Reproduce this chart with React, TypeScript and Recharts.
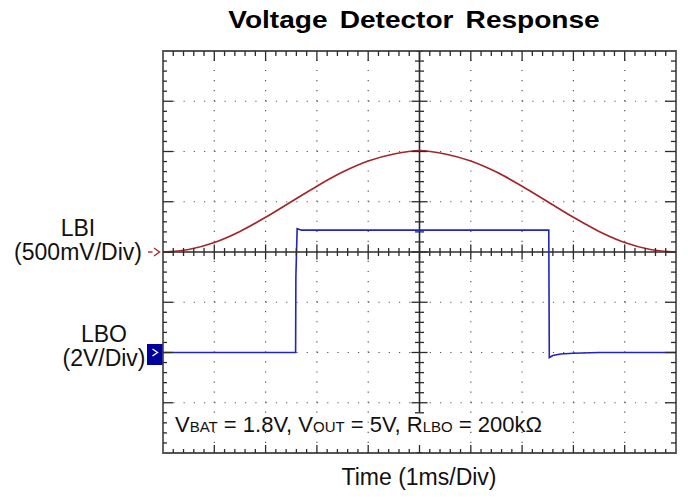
import { ComposedChart, Line, Scatter, XAxis, YAxis, ReferenceLine, ReferenceArea, ReferenceDot } from 'recharts';

// time axis: 1 ms per division, 10 divisions
const GRID_X = [1, 2, 3, 4, 6, 7, 8, 9];
// LBI axis: 500 mV per division, 8 divisions, zero at centre
const GRID_Y = [-1.5, -1, -0.5, 0.5, 1, 1.5];

// LBI channel (V), read every 0.5 ms
const LBI_TIME = [0, 0.5, 1, 1.5, 2, 2.5, 3, 3.5, 4, 4.5, 5, 5.5, 6, 6.5, 7, 7.5, 8, 8.5, 9, 9.5, 10];
const LBI_VOLTS = [0, 0.025, 0.095, 0.205, 0.345, 0.5, 0.655, 0.795, 0.905, 0.975, 1.01, 0.975, 0.905, 0.795, 0.655, 0.5, 0.345, 0.205, 0.095, 0.025, 0];

// LBO channel (V), 2 V per division, zero two divisions below centre
const LBO_TIME = [0, 2.585, 2.59, 2.615, 2.7, 7.52, 7.53, 7.6, 7.75, 8.0, 8.5, 10];
const LBO_VOLTS = [0, 0, 3.0, 4.93, 4.87, 4.87, -0.2, -0.12, -0.06, -0.03, 0, 0];

const lbiData = LBI_TIME.map((t, i) => ({ t, v: LBI_VOLTS[i] }));
const lboData = LBO_TIME.map((t, i) => ({ t, v: LBO_VOLTS[i] }));

// graticule tick positions (0.2 div steps)
const range = (a: number, b: number) => Array.from({ length: b - a + 1 }, (_, i) => a + i);
const xSteps = range(1, 49);
const ySteps = range(-19, 19);
const centreH = xSteps.map((i) => ({ t: i * 0.2, v: 0, major: i % 5 === 0 }));
const centreV = range(-16, 19).map((k) => ({ t: 5, v: k * 0.1, major: k % 5 === 0 }));
const topEdge = xSteps.map((i) => ({ t: i * 0.2, v: 2, major: i % 5 === 0, mid: i === 25 }));
const bottomEdge = xSteps.map((i) => ({ t: i * 0.2, v: -2, major: i % 5 === 0, mid: i === 25 }));
const leftEdge = ySteps.map((k) => ({ t: 0, v: k * 0.1, major: k % 5 === 0 }));
const rightEdge = ySteps.map((k) => ({ t: 10, v: k * 0.1, major: k % 5 === 0 }));

const INK = '#2b2b2b';
const FONT = '"Liberation Sans", Arial, Helvetica, sans-serif';

const vMark = (minor: [number, number], major: [number, number]) => (p: any) => {
  const [a, b] = p.payload.major ? major : minor;
  return (
    <g>
      <line x1={p.cx} x2={p.cx} y1={p.cy + a} y2={p.cy + b} stroke={INK} strokeWidth={1.3} />
      {p.payload.mid && (
        <line x1={p.cx - 3} x2={p.cx + 3} y1={p.cy + a} y2={p.cy + a} stroke={INK} strokeWidth={1.3} />
      )}
    </g>
  );
};
const hMark = (minor: [number, number], major: [number, number]) => (p: any) => {
  const [a, b] = p.payload.major ? major : minor;
  return <line x1={p.cx + a} x2={p.cx + b} y1={p.cy} y2={p.cy} stroke={INK} strokeWidth={1.3} />;
};

const lbiMarker = (p: any) => (
  <g stroke="#b02a2a" strokeWidth={1.4} fill="none">
    <line x1={p.cx - 15} x2={p.cx - 10.5} y1={p.cy} y2={p.cy} />
    <polyline points={`${p.cx - 9},${p.cy - 4} ${p.cx - 3.5},${p.cy} ${p.cx - 9},${p.cy + 4}`} />
  </g>
);
const lboMarker = (p: any) => (
  <g>
    <rect x={p.cx - 16} y={p.cy - 8.5} width={15.5} height={21} fill="#00009c" />
    <polyline
      points={`${p.cx - 10.5},${p.cy - 3.5} ${p.cx - 5.5},${p.cy} ${p.cx - 10.5},${p.cy + 3.5}`}
      stroke="#ffffff"
      strokeWidth={1.4}
      fill="none"
    />
  </g>
);

const sub = 15;

export default function App() {
  return (
    <div style={{ position: 'absolute', left: 0, top: 0, width: 688, height: 501, background: '#ffffff' }}>
      <ComposedChart width={688} height={501} margin={{ top: 51, right: 12, bottom: 48, left: 163 }}>
        <XAxis dataKey="t" type="number" domain={[0, 10]} hide allowDataOverflow />
        <YAxis yAxisId="lbi" type="number" domain={[-2, 2]} hide allowDataOverflow />
        <YAxis yAxisId="lbo" type="number" domain={[-4, 12]} hide allowDataOverflow />

        {GRID_X.map((x) => (
          <ReferenceLine key={`gx${x}`} x={x} yAxisId="lbi" stroke="#555" strokeWidth={1.2} strokeDasharray="1.2 8.85" />
        ))}
        {GRID_Y.map((y) => (
          <ReferenceLine key={`gy${y}`} y={y} yAxisId="lbi" stroke="#555" strokeWidth={1.2} strokeDasharray="1.2 9.06" />
        ))}

        <ReferenceLine y={0} yAxisId="lbi" stroke={INK} strokeWidth={1.6} />
        <ReferenceLine
          yAxisId="lbi"
          segment={[{ x: 5, y: 2 }, { x: 5, y: -1.6 }]}
          stroke={INK}
          strokeWidth={1.6}
        />

        <Scatter yAxisId="lbi" data={centreH} dataKey="v" shape={vMark([-4, 4], [-7.5, 7.5])} isAnimationActive={false} />
        <Scatter yAxisId="lbi" data={centreV} dataKey="v" shape={hMark([-4.5, 4.5], [-8, 8])} isAnimationActive={false} />
        <Scatter yAxisId="lbi" data={topEdge} dataKey="v" shape={vMark([0, 5], [0, 10])} isAnimationActive={false} />
        <Scatter yAxisId="lbi" data={bottomEdge} dataKey="v" shape={vMark([0, -4], [0, -8])} isAnimationActive={false} />
        <Scatter yAxisId="lbi" data={leftEdge} dataKey="v" shape={hMark([0, 4], [0, 10])} isAnimationActive={false} />
        <Scatter yAxisId="lbi" data={rightEdge} dataKey="v" shape={hMark([0, -5], [0, -11])} isAnimationActive={false} />

        <ReferenceArea yAxisId="lbi" x1={0} x2={10} y1={-2} y2={2} fill="none" fillOpacity={0} stroke="#555" strokeWidth={1.8} ifOverflow="visible" />

        <Line
          yAxisId="lbi"
          data={lbiData}
          dataKey="v"
          type="monotone"
          stroke="#a3262b"
          strokeWidth={1.7}
          dot={false}
          isAnimationActive={false}
        />
        <Line
          yAxisId="lbo"
          data={lboData}
          dataKey="v"
          type="linear"
          stroke="#2323c4"
          strokeWidth={1.6}
          dot={false}
          isAnimationActive={false}
        />

        <ReferenceDot yAxisId="lbi" x={0} y={0} r={0} shape={lbiMarker} ifOverflow="visible" />
        <ReferenceDot yAxisId="lbo" x={0} y={0} r={0} shape={lboMarker} ifOverflow="visible" />
      </ComposedChart>

      <svg
        width={688}
        height={501}
        style={{ position: 'absolute', left: 0, top: 0, pointerEvents: 'none' }}
        fontFamily={FONT}
      >
        <text
          transform="translate(414,28) scale(1.08,0.9)"
          x={0}
          y={0}
          textAnchor="middle"
          fontSize={26}
          fontWeight="bold"
          wordSpacing={4}
          fill="#000"
        >
          Voltage Detector Response
        </text>
        <text x={78} y={236} textAnchor="middle" fontSize={23} fill="#111">LBI</text>
        <text x={78} y={260} textAnchor="middle" fontSize={23} fill="#111">(500mV/Div)</text>
        <text x={104} y={342} textAnchor="middle" fontSize={23} fill="#111">LBO</text>
        <text x={104} y={366} textAnchor="middle" fontSize={23} fill="#111">(2V/Div)</text>
        <text x={175} y={432} fontSize={22} fill="#111">
          V<tspan fontSize={sub}>BAT</tspan>
          {' = 1.8V, V'}
          <tspan fontSize={sub}>OUT</tspan>
          {' = 5V, R'}
          <tspan fontSize={sub}>LBO</tspan>
          {' = 200kΩ'}
        </text>
        <text x={419} y={485} textAnchor="middle" fontSize={23} fill="#111">Time (1ms/Div)</text>
      </svg>
    </div>
  );
}
